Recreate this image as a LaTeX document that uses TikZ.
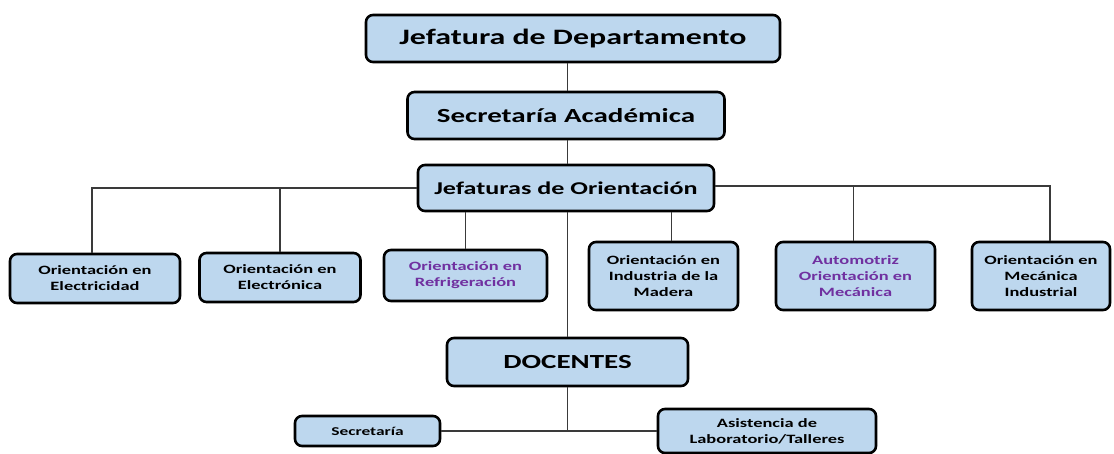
\documentclass[tikz,border=0pt]{standalone}
\usepackage{fontspec}
\setmainfont{Carlito}[FakeStretch=1.45]
\definecolor{boxblue}{HTML}{BDD7EE}
\definecolor{purp}{HTML}{7030A0}
\definecolor{linegray}{HTML}{3A3A3A}
\tikzset{
  box/.style={draw=black, fill=boxblue, line width=2.6pt, rounded corners=7pt,
    align=center, inner sep=0pt, font=\bfseries},
  small/.style={box, font=\bfseries\fontsize{12.7}{16}\selectfont},
  conn/.style={draw=linegray, line width=1.4pt}
}
\begin{document}
\begin{tikzpicture}[x=1pt,y=-1pt]
\useasboundingbox (0,0) rectangle (1114,453);
\node[box, minimum width=414pt, minimum height=47pt, font=\bfseries\fontsize{22}{26}\selectfont] (jd) at (573,38.5) {Jefatura de Departamento};
\node[box, minimum width=317pt, minimum height=47pt, font=\bfseries\fontsize{20}{24}\selectfont] (sa) at (566,115.5) {Secretaría Académica};
\node[box, minimum width=296pt, minimum height=46pt, font=\bfseries\fontsize{18}{22}\selectfont] (jo) at (566,188) {Jefaturas de Orientación};
\node[small, minimum width=170pt, minimum height=49pt] (el) at (95,278.5) {Orientación en\\Electricidad};
\node[small, minimum width=161pt, minimum height=49pt] (et) at (280,277.5) {Orientación en\\Electrónica};
\node[small, minimum width=163pt, minimum height=51pt, text=purp] (rf) at (465.5,275.5) {Orientación en\\Refrigeración};
\node[small, minimum width=149pt, minimum height=68pt] (md) at (663.5,276) {Orientación en\\Industria de la\\Madera};
\node[small, minimum width=159pt, minimum height=68pt, text=purp] (au) at (855.5,276) {Automotriz\\Orientación en\\Mecánica};
\node[small, minimum width=138pt, minimum height=68pt] (mi) at (1041,276) {Orientación en\\Mecánica\\Industrial};
\node[box, minimum width=241pt, minimum height=48pt, font=\bfseries\fontsize{20}{24}\selectfont] (dc) at (567.5,362) {DOCENTES};
\node[small, minimum width=145pt, minimum height=30pt, font=\bfseries\fontsize{12}{15}\selectfont] (sc) at (367.5,431) {Secretaría};
\node[small, minimum width=218pt, minimum height=44pt] (as) at (767,431) {Asistencia de\\Laboratorio/Talleres};
\draw[conn] (jd.south -| dc.north) -- (sa.north -| dc.north);
\draw[conn] (sa.south -| dc.north) -- (jo.north -| dc.north);
\draw[conn] (jo.west) -| ([xshift=-3pt]el.north);
\draw[conn] (et.north) -- (et.north |- jo.west);
\draw[conn] (rf.north) -- (rf.north |- jo.south);
\draw[conn] ([xshift=8pt]md.north) -- ([xshift=8pt]md.north |- jo.south);
\draw[conn] ([yshift=2pt]jo.east) -| ([xshift=9pt]mi.north);
\draw[conn] ([xshift=-2pt]au.north) -- ([xshift=-2pt,yshift=2pt]au.north |- jo.east);
\draw[conn] (jo.south -| dc.north) -- (dc.north);
\draw[conn] (dc.south) -- (dc.south |- sc.east);
\draw[conn] (sc.east) -- (as.west);
\end{tikzpicture}
\end{document}
